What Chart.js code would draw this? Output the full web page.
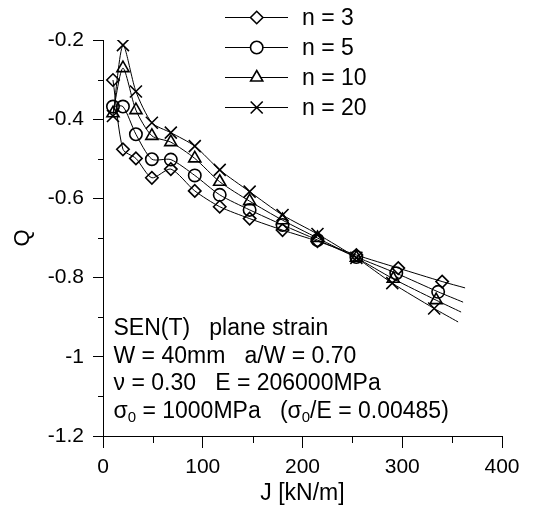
<!DOCTYPE html>
<html>
<head>
<meta charset="utf-8">
<script src="https://cdn.jsdelivr.net/npm/chart.js@4.4.0/dist/chart.umd.min.js"></script>
<style>
  html, body { margin: 0; padding: 0; background: #fff; }
</style>
</head>
<body>
<canvas id="qChart" width="533" height="507"></canvas>
<script>
// Q vs J, SEN(T) plane strain, four hardening exponents n

const seriesNames = ['n = 3', 'n = 5', 'n = 10', 'n = 20'];
const markerStyles = ['rectRot', 'circle', 'triangle', 'crossRot'];

// J [kN/m] and Q, one pair per n
const J3  = [10, 20, 33, 49, 68, 92, 117, 147, 180, 215, 254, 296, 340];
const Q3  = [-0.301, -0.476, -0.499, -0.548, -0.526, -0.581, -0.621, -0.651, -0.680, -0.708, -0.743, -0.776, -0.810];
const J5  = [10, 20, 33, 49, 68, 92, 117, 147, 180, 215, 254, 294, 336];
const Q5  = [-0.368, -0.368, -0.438, -0.501, -0.502, -0.542, -0.591, -0.629, -0.667, -0.705, -0.748, -0.789, -0.836];
const J10 = [10, 20, 33, 49, 68, 92, 117, 147, 180, 215, 254, 291, 334];
const Q10 = [-0.385, -0.271, -0.377, -0.442, -0.458, -0.499, -0.558, -0.607, -0.655, -0.700, -0.750, -0.803, -0.857];
const J20 = [10, 20, 33, 49, 68, 92, 117, 147, 180, 215, 254, 290, 332];
const Q20 = [-0.392, -0.213, -0.330, -0.409, -0.434, -0.468, -0.528, -0.583, -0.642, -0.690, -0.750, -0.814, -0.878];

// where each fitted curve runs out past the last marker
const tailJ = [363, 361, 359, 356];
const tailQ = [-0.826, -0.862, -0.887, -0.912];

// axis ticks
const xMajor = [0, 100, 200, 300, 400];
const xMinor = [50, 150, 250, 350];
const yMajor = [-0.2, -0.4, -0.6, -0.8, -1, -1.2];
const yMinor = [-0.3, -0.5, -0.7, -0.9, -1.1];

// note in the lower left; sub:true means subscript
const noteLines = [
  [{ t: 'SEN(T)   plane strain' }],
  [{ t: 'W = 40mm   a/W = 0.70' }],
  [{ t: 'ν = 0.30   E = 206000MPa' }],
  [{ t: 'σ' }, { t: '0', sub: true }, { t: ' = 1000MPa   (σ' }, { t: '0', sub: true }, { t: '/E = 0.00485)' }]
];

const FONT = '"Liberation Sans", Arial, Helvetica, sans-serif';
const allJ = [J3, J5, J10, J20];
const allQ = [Q3, Q5, Q10, Q20];

function markerRadius(style) {
  return style === 'crossRot' ? 8.5 : style === 'triangle' ? 7 : 6.2;
}

const datasets = seriesNames.map((name, i) => {
  const pts = allJ[i].map((j, k) => ({ x: j, y: allQ[i][k] }));
  pts.push({ x: tailJ[i], y: tailQ[i] }); // curve end, no marker
  const last = pts.length - 1;
  return {
    label: name,
    data: pts,
    showLine: true,
    tension: 0.25,
    borderColor: '#000',
    borderWidth: 1,
    pointStyle: markerStyles[i],
    pointRadius: ctx => ctx.dataIndex === last ? 0 : markerRadius(markerStyles[i]),
    pointBorderWidth: 1.6,
    pointBorderColor: '#000',
    pointBackgroundColor: 'rgba(255,255,255,0)'
  };
});

// short minor ticks, Chart.js has no minor ticks of its own
const minorTicks = {
  id: 'minorTicks',
  afterDraw(chart) {
    const { ctx, scales: { x, y } } = chart;
    ctx.save();
    ctx.strokeStyle = '#000';
    ctx.lineWidth = 1;
    ctx.beginPath();
    xMinor.forEach(v => {
      const px = Math.round(x.getPixelForValue(v)) + 0.5;
      ctx.moveTo(px, x.top); ctx.lineTo(px, x.top + 7);
    });
    yMinor.forEach(v => {
      const py = Math.round(y.getPixelForValue(v)) + 0.5;
      ctx.moveTo(y.right, py); ctx.lineTo(y.right - 5, py);
    });
    ctx.stroke();
    ctx.restore();
  }
};

// legend drawn as line + marker like the original
const lineLegend = {
  id: 'lineLegend',
  afterDraw(chart) {
    const ctx = chart.ctx;
    ctx.save();
    seriesNames.forEach((name, i) => {
      const yy = 17.5 + i * 30;
      ctx.strokeStyle = '#000';
      ctx.lineWidth = 1;
      ctx.beginPath();
      ctx.moveTo(225, yy); ctx.lineTo(288, yy);
      ctx.stroke();
      ctx.fillStyle = '#fff';
      ctx.lineWidth = 1.6;
      Chart.helpers.drawPoint(ctx, {
        pointStyle: markerStyles[i],
        radius: markerRadius(markerStyles[i]),
        rotation: 0,
        borderWidth: 1.6
      }, 256.7, yy);
      ctx.fillStyle = '#000';
      ctx.font = '23px ' + FONT;
      ctx.textBaseline = 'middle';
      ctx.textAlign = 'left';
      ctx.fillText(name, 302, yy + 1);
    });
    ctx.restore();
  }
};

// the specimen note
const specNote = {
  id: 'specNote',
  afterDraw(chart) {
    const { ctx, chartArea } = chart;
    ctx.save();
    ctx.fillStyle = '#000';
    ctx.textBaseline = 'alphabetic';
    ctx.textAlign = 'left';
    noteLines.forEach((segs, i) => {
      let xx = chartArea.left + 10.5;
      const base = chartArea.bottom - 101 + i * 27.7;
      segs.forEach(s => {
        ctx.font = (s.sub ? '15px ' : '23px ') + FONT;
        ctx.fillText(s.t, xx, s.sub ? base + 4 : base);
        xx += ctx.measureText(s.t).width;
      });
    });
    ctx.restore();
  }
};

new Chart(document.getElementById('qChart'), {
  type: 'scatter',
  data: { datasets },
  options: {
    responsive: false,
    animation: false,
    layout: { padding: { top: 40, right: 31, bottom: 0, left: 0 } },
    plugins: { legend: { display: false }, tooltip: { enabled: false } },
    scales: {
      x: {
        type: 'linear', min: 0, max: 400,
        afterFit: s => { s.height = 71; },
        afterBuildTicks: s => { s.ticks = xMajor.map(v => ({ value: v })); },
        ticks: { color: '#000', font: { family: FONT, size: 21 }, padding: 7, callback: v => String(v) },
        grid: { drawOnChartArea: false, drawTicks: true, tickLength: 12, color: '#000' },
        border: { display: true, color: '#000', width: 1 },
        title: { display: true, text: 'J [kN/m]', color: '#000', font: { family: FONT, size: 23 }, padding: { top: 0, bottom: 0 } }
      },
      y: {
        type: 'linear', min: -1.2, max: -0.2,
        afterFit: s => { s.width = 103; },
        afterBuildTicks: s => { s.ticks = yMajor.map(v => ({ value: v })); },
        ticks: { color: '#000', font: { family: FONT, size: 21 }, padding: 9, callback: v => String(+v.toFixed(1)) },
        grid: { drawOnChartArea: false, drawTicks: true, tickLength: 10, color: '#000' },
        border: { display: true, color: '#000', width: 1 },
        title: { display: true, text: 'Q', color: '#000', font: { family: FONT, size: 22 }, padding: { top: 10, bottom: 0 } }
      }
    }
  },
  plugins: [minorTicks, lineLegend, specNote]
});
</script>
</body>
</html>
